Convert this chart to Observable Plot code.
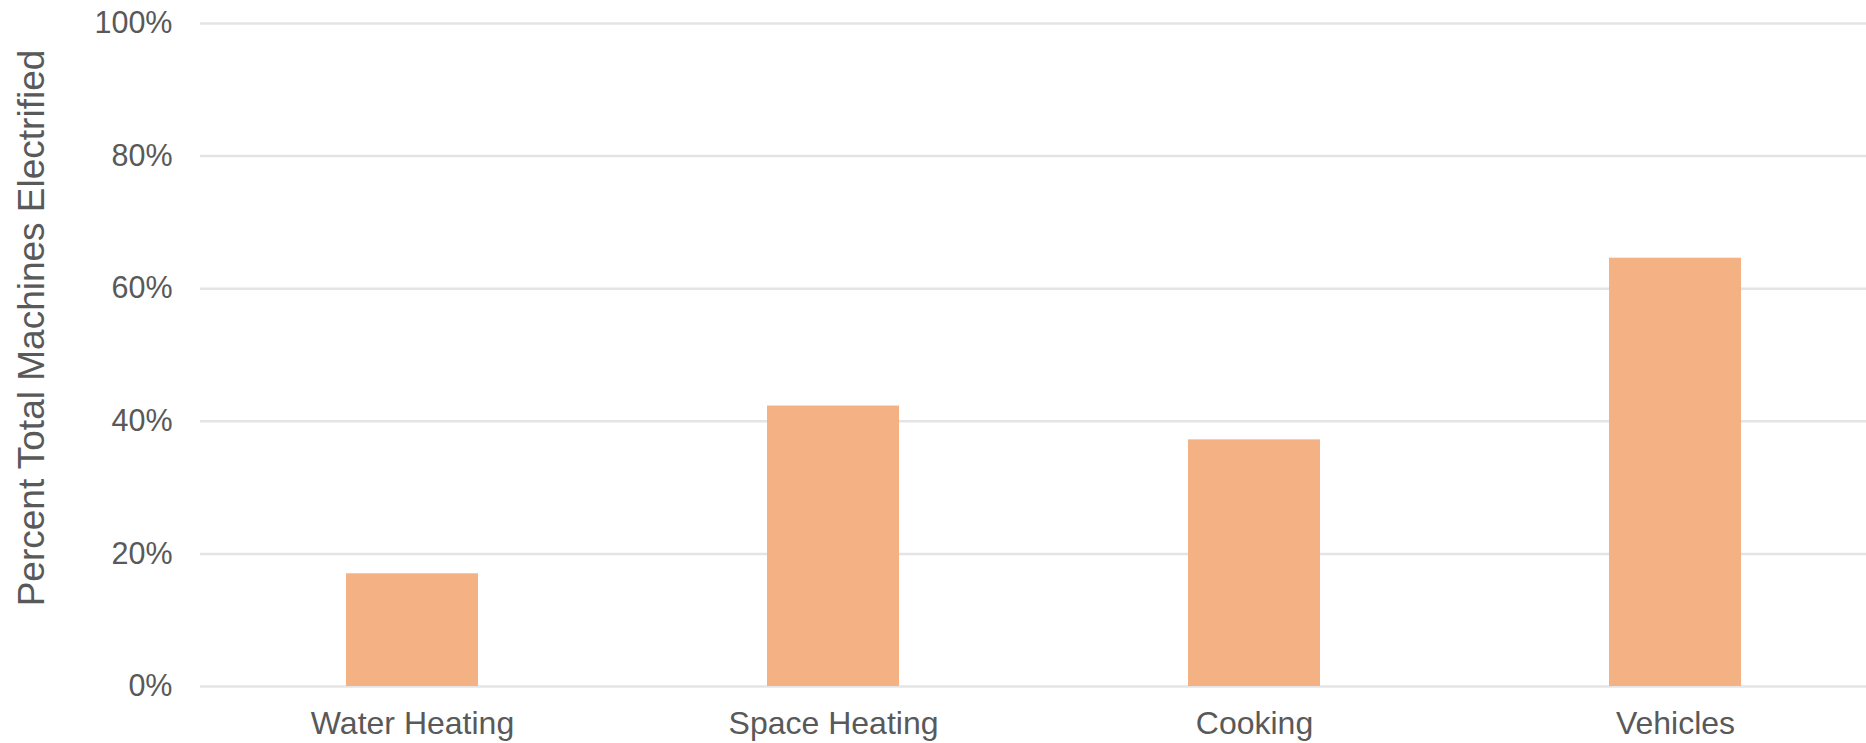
<!DOCTYPE html>
<html>
<head>
<meta charset="utf-8">
<script src="https://cdn.jsdelivr.net/npm/d3@7"></script>
<script src="https://cdn.jsdelivr.net/npm/@observablehq/plot@0.6"></script>
<style>
  html, body { margin: 0; padding: 0; background: #fff; }
  #chart svg { display: block; }
</style>
</head>
<body>
<div id="chart"></div>
<script>
const categories = ["Water Heating", "Space Heating", "Cooking", "Vehicles"];
const values = [17.0, 42.3, 37.2, 64.6];
const yTicks = [0, 20, 40, 60, 80, 100];
const yLabel = "Percent Total Machines Electrified";

const data = categories.map((c, i) => ({category: c, value: values[i]}));

const chart = Plot.plot({
  width: 1866,
  height: 743,
  marginTop: 23,
  marginBottom: 57,
  marginLeft: 200,
  marginRight: 0,
  style: {fontFamily: "'Liberation Sans', Arial, sans-serif", color: "#595959", background: "#fff"},
  x: {domain: categories, range: [200, 1887], paddingInner: 0.6865, paddingOuter: 0.3468, label: null},
  y: {domain: [0, 100], label: null},
  marks: [
    Plot.ruleY(yTicks, {stroke: "#e4e4e4", strokeWidth: 2.5}),
    Plot.barY(data, {x: "category", y: "value", fill: "#F4B183"}),
    Plot.axisY(yTicks, {tickSize: 0, tickPadding: 28, tickFormat: d => d + "%", fontSize: 30.5, fill: "#595959", label: null}),
    Plot.axisX({tickSize: 0, tickPadding: 25, fontSize: 32, fill: "#595959", label: null}),
    Plot.text([yLabel], {frameAnchor: "left", textAnchor: "middle", text: d => d, rotate: -90, dx: -168, dy: -27, fontSize: 37, fill: "#595959"})
  ]
});
document.getElementById("chart").appendChild(chart);
</script>
</body>
</html>
